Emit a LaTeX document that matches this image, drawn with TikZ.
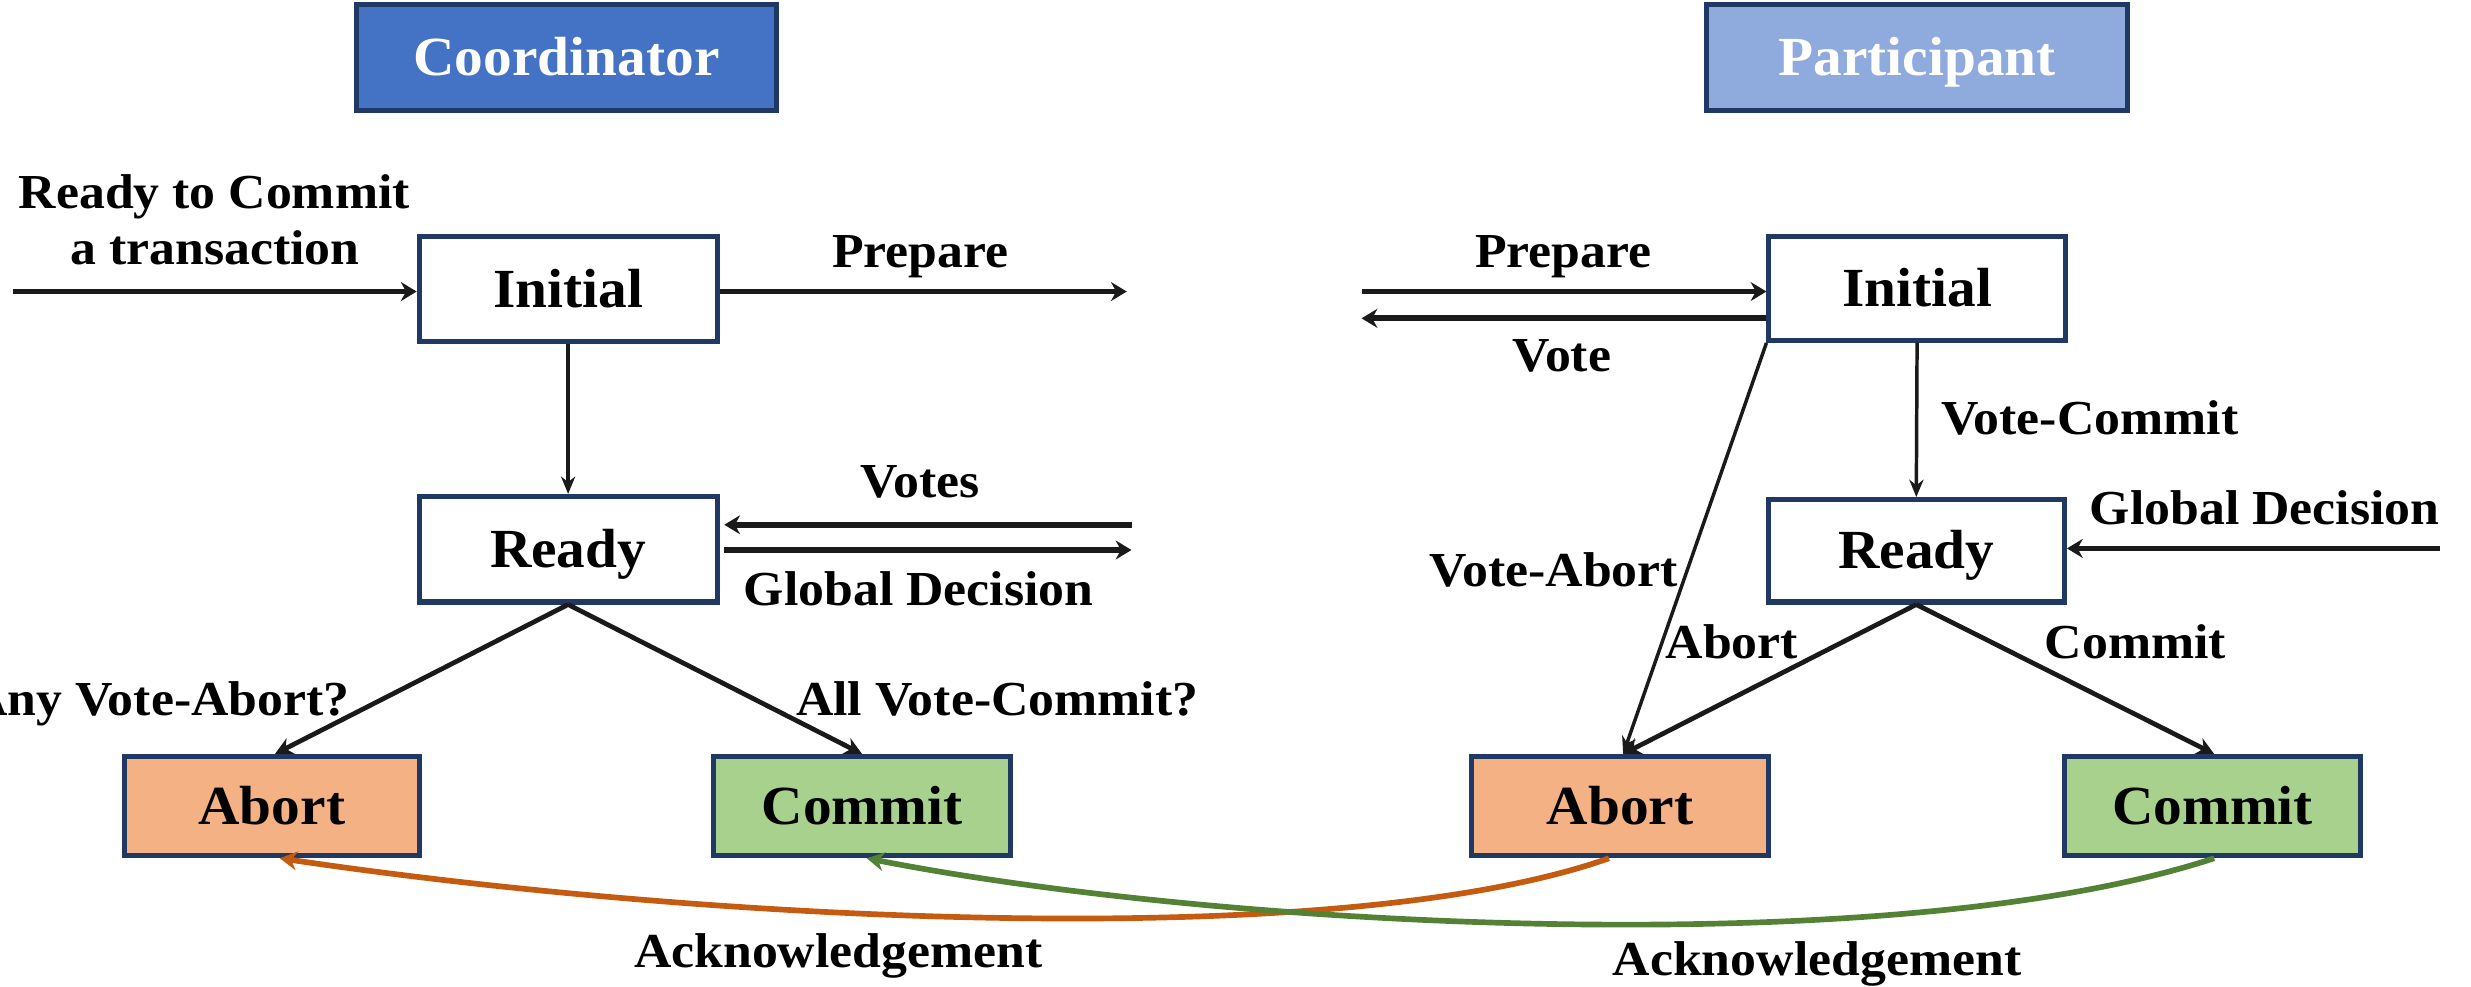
\documentclass[tikz,border=0pt]{standalone}
\usepackage{fontspec}
\setmainfont{Liberation Serif}
\newfontfamily\boxfont{Liberation Serif}[FakeStretch=1.04]
\newfontfamily\labelfont{Liberation Serif}[FakeStretch=1.06]
\usetikzlibrary{arrows.meta}

\definecolor{navy}{HTML}{203864}
\definecolor{coordblue}{HTML}{4472C4}
\definecolor{partblue}{HTML}{8FAADC}
\definecolor{abortfill}{HTML}{F4B183}
\definecolor{commitfill}{HTML}{A9D18E}
\definecolor{ackorange}{HTML}{C55A11}
\definecolor{ackgreen}{HTML}{548235}
\definecolor{ink}{HTML}{1A1A1A}

\tikzset{
  statebox/.style={draw=navy, line width=3.2pt, rectangle, inner sep=0pt,
    text height=23pt, text depth=0pt,
    font=\boxfont\bfseries\fontsize{35}{40}\selectfont, text=black},
  rolebox/.style={statebox, text=white},
  lbl/.style={font=\labelfont\bfseries\fontsize{31}{37}\selectfont, text=black, inner sep=0pt},
  flow/.style={draw=ink, line width=3.6pt, -{Stealth[length=10pt,width=12pt]}},
  thinflow/.style={draw=ink, line width=2.2pt, -{Stealth[length=11pt,width=9pt]}},
  branch/.style={draw=ink, line width=3pt, -{Stealth[length=11pt,width=11pt]}},
  ack/.style={line width=3.6pt, -{Stealth[length=11pt,width=12pt]}},
}

\begin{document}
\begin{tikzpicture}[x=1pt, y=-1pt]
\useasboundingbox (0,0) rectangle (1568,626);

% role headers
\node[rolebox, fill=coordblue, minimum width=267pt, minimum height=67pt] (coord) at (359.5,36.5) {Coordinator};
\node[rolebox, fill=partblue, minimum width=267pt, minimum height=67pt] (part) at (1216.5,36.5) {Participant};

% coordinator states
\node[statebox, fill=white, minimum width=189pt, minimum height=67pt] (cinit) at (360.5,183.5) {Initial};
\node[statebox, fill=white, minimum width=189pt, minimum height=67pt] (cready) at (360.5,348.5) {Ready};
\node[statebox, fill=abortfill, minimum width=187pt, minimum height=63pt] (cabort) at (172.5,511.5) {Abort};
\node[statebox, fill=commitfill, minimum width=188pt, minimum height=63pt] (ccommit) at (547,511.5) {Commit};

% participant states
\node[statebox, fill=white, minimum width=188pt, minimum height=66pt] (pinit) at (1216.5,183) {Initial};
\node[statebox, fill=white, minimum width=188pt, minimum height=65pt] (pready) at (1216,349.5) {Ready};
\node[statebox, fill=abortfill, minimum width=188pt, minimum height=63pt] (pabort) at (1028,511.5) {Abort};
\node[statebox, fill=commitfill, minimum width=188pt, minimum height=63pt] (pcommit) at (1404,511.5) {Commit};

% free ends of message arrows
\coordinate (start) at (8,185);
\coordinate (prepout) at (715,185);
\coordinate (votesin) at (718,333);
\coordinate (decout) at (718,349);
\coordinate (prepin) at (864,185);
\coordinate (voteout) at (864,202);
\coordinate (decin) at (1548,348);

% coordinator connectors
\draw[flow] (start) -- (cinit.west |- start);
\draw[flow] (cinit.east |- prepout) -- (prepout);
\draw[thinflow] (cinit.south) -- (cready.north);
\draw[flow] (votesin) -- ([xshift=3pt]cready.east |- votesin);
\draw[flow] ([xshift=3pt]cready.east |- decout) -- (decout);
\draw[branch] (cready.south) -- ([xshift=2pt]cabort.north);
\draw[branch] (cready.south) -- (ccommit.north);

% participant connectors
\draw[flow] (prepin) -- (pinit.west |- prepin);
\draw[flow] (pinit.west |- voteout) -- (voteout);
\draw[thinflow] (pinit.south) -- (pready.north);
\draw[flow] (decin) -- (pready.east |- decin);
\draw[thinflow] (pinit.south west) -- ([xshift=2pt]pabort.north);
\draw[branch] (pready.south) -- ([xshift=2pt]pabort.north);
\draw[branch] (pready.south) -- ([xshift=1pt]pcommit.north);

% acknowledgements
\draw[ack, draw=ackorange] ([xshift=-7pt]pabort.south) .. controls (850,605) and (450,585) .. ([xshift=5pt]cabort.south);
\draw[ack, draw=ackgreen] ([xshift=1pt]pcommit.south) .. controls (1200,612) and (770,588) .. ([xshift=3pt]ccommit.south);

% labels
\node[lbl, anchor=base] (lstart1) at (136,132) {Ready to Commit};
\node[lbl, anchor=base] (lstart2) at (136.5,168) {a transaction};
\node[lbl, anchor=base] (lprep) at (584,170) {Prepare};
\node[lbl, anchor=base] (lvotes) at (584,316) {Votes};
\node[lbl, anchor=base] (ldec) at (583,384) {Global Decision};
\node[lbl, anchor=base east] (lany) at (222,454) {Any Vote-Abort?};
\node[lbl, anchor=base west] (lall) at (505,454) {All Vote-Commit?};
\node[lbl, anchor=base] (lprep2) at (992,170) {Prepare};
\node[lbl, anchor=base] (lvote) at (991,236) {Vote};
\node[lbl, anchor=base] (lvc) at (1326,276) {Vote-Commit};
\node[lbl, anchor=base] (ldec2) at (1437,333) {Global Decision};
\node[lbl, anchor=base] (lva) at (986,372) {Vote-Abort};
\node[lbl, anchor=base] (labort) at (1099,418) {Abort};
\node[lbl, anchor=base] (lcommit) at (1355,418) {Commit};
\node[lbl, anchor=base] (lack1) at (532,614) {Acknowledgement};
\node[lbl, anchor=base] (lack2) at (1153,619) {Acknowledgement};
\end{tikzpicture}
\end{document}
